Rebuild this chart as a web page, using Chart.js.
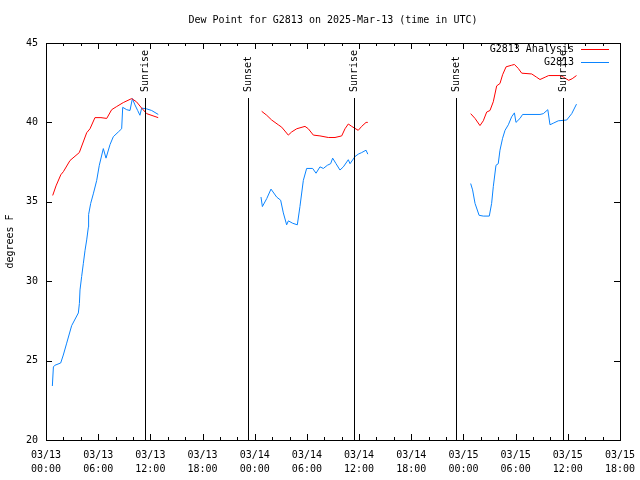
<!DOCTYPE html>
<html>
<head>
<meta charset="utf-8">
<script src="https://cdn.jsdelivr.net/npm/chart.js@4.4.0/dist/chart.umd.min.js"></script>
<style>
html, body { margin: 0; padding: 0; background: #fff; }
</style>
</head>
<body>
<canvas id="dewChart" width="640" height="480"></canvas>
<script>
// hours since 2025-03-13 00:00 UTC, null breaks the line between days
const analysisHours = [0.77, 1.15, 1.7, 2.0, 2.76, 3.83, 4.68, 5.06, 5.63, 6.32, 6.98, 7.55, 8.13, 8.89, 9.85, 10.4, 11.0, 11.58, 12.9,
    18,
    24.8, 25.38, 25.95, 26.71, 27.1, 27.86, 28.25, 28.83, 29.78, 30.16, 30.74, 31.5, 32.46, 33.23, 34.0, 34.38, 34.76, 35.15, 35.9, 36.3, 36.8, 37.0,
    42,
    48.83, 49.33, 49.9, 50.28, 50.67, 51.05, 51.43, 51.82, 52.2, 52.5, 52.9, 53.54, 53.86, 54.3, 54.7, 55.85, 56.4, 56.8, 57.4, 57.8, 59.15, 59.5, 60.1, 60.5, 61.0];
const analysisDew = [35.4, 36.0, 36.7, 36.9, 37.6, 38.1, 39.35, 39.6, 40.3, 40.3, 40.25, 40.8, 41.0, 41.25, 41.5, 41.3, 40.9, 40.55, 40.3,
    null,
    40.7, 40.45, 40.15, 39.85, 39.7, 39.2, 39.4, 39.6, 39.75, 39.6, 39.2, 39.15, 39.05, 39.05, 39.15, 39.6, 39.9, 39.75, 39.5, 39.75, 40.0, 40.0,
    null,
    40.55, 40.25, 39.8, 40.1, 40.65, 40.75, 41.3, 42.3, 42.45, 43.0, 43.5, 43.6, 43.65, 43.4, 43.1, 43.05, 42.85, 42.7, 42.85, 42.95, 42.95, 42.85, 42.65, 42.75, 42.95];

const stationHours = [0.73, 0.85, 1.0, 1.69, 1.99, 2.38, 2.95, 3.72, 3.84, 3.91, 4.1, 4.29, 4.49, 4.68, 4.87, 4.9, 5.14, 5.44, 5.83, 6.13, 6.59, 6.9, 7.36, 7.74, 8.32, 8.7, 8.82, 9.28, 9.66, 9.93, 10.23, 10.54, 10.8, 11.0, 11.58, 12.15, 12.91,
    18,
    24.72, 24.88, 25.38, 25.87, 26.52, 26.98, 27.29, 27.67, 27.87, 28.36, 28.9, 29.2, 29.59, 29.97, 30.66, 31.05, 31.5, 31.89, 32.35, 32.73, 32.96, 33.35, 33.8, 34.19, 34.76, 34.96, 35.53, 35.9, 36.3, 36.8, 37.0,
    42,
    48.83, 49.05, 49.33, 49.8, 50.28, 50.97, 51.24, 51.43, 51.74, 52.0, 52.2, 52.5, 52.78, 53.16, 53.54, 53.86, 54.04, 54.5, 54.8, 55.65, 56.8, 57.18, 57.7, 57.95, 58.33, 58.9, 59.87, 60.45, 61.0];
const stationDew = [23.4, 24.6, 24.7, 24.85, 25.35, 26.1, 27.2, 28.0, 28.6, 29.45, 30.3, 31.1, 31.95, 32.6, 33.4, 34.2, 34.9, 35.5, 36.35, 37.3, 38.35, 37.75, 38.6, 39.1, 39.4, 39.6, 40.95, 40.8, 40.75, 41.5, 41.1, 40.75, 40.45, 40.9, 40.85, 40.75, 40.5,
    null,
    35.3, 34.7, 35.2, 35.8, 35.3, 35.1, 34.3, 33.55, 33.8, 33.65, 33.55, 34.7, 36.35, 37.1, 37.1, 36.8, 37.2, 37.1, 37.3, 37.4, 37.75, 37.4, 37.0, 37.2, 37.65, 37.4, 37.85, 38.0, 38.1, 38.25, 38.0,
    null,
    36.15, 35.75, 34.9, 34.15, 34.1, 34.1, 34.9, 35.95, 37.3, 37.4, 38.25, 39.0, 39.5, 39.85, 40.35, 40.6, 40.0, 40.25, 40.5, 40.5, 40.5, 40.55, 40.8, 39.85, 39.95, 40.1, 40.15, 40.55, 41.15];

const sunHours = [11.43, 23.17, 35.42, 47.2, 59.45];
const sunLabels = ['Sunrise', 'Sunset', 'Sunrise', 'Sunset', 'Sunrise'];

const xTickLabels = [
    ['03/13', '00:00'], ['03/13', '06:00'], ['03/13', '12:00'], ['03/13', '18:00'],
    ['03/14', '00:00'], ['03/14', '06:00'], ['03/14', '12:00'], ['03/14', '18:00'],
    ['03/15', '00:00'], ['03/15', '06:00'], ['03/15', '12:00'], ['03/15', '18:00']
];

const toPoints = (hrs, vals) => hrs.map((h, i) => ({ x: h, y: vals[i] }));

const monoFont = { family: 'DejaVu Sans Mono', size: 10, weight: 'normal' };
Chart.defaults.font.family = monoFont.family;
Chart.defaults.font.size = 10;
Chart.defaults.color = '#000';

// gnuplot look: frame, inward ticks, sunrise/sunset markers, legend
const gnuplotFrame = {
    id: 'gnuplotFrame',
    afterDatasetsDraw(chart) {
        const { ctx, chartArea: a, scales: { x, y } } = chart;
        const px = v => Math.round(v) + 0.5;
        ctx.save();
        ctx.strokeStyle = '#000';
        ctx.fillStyle = '#000';
        ctx.lineWidth = 1;
        ctx.font = '10px "DejaVu Sans Mono"';

        // sunrise / sunset lines
        const lineTop = a.bottom - 0.861 * (a.bottom - a.top);
        sunHours.forEach((h, i) => {
            const xp = px(x.getPixelForValue(h));
            ctx.beginPath();
            ctx.moveTo(xp, a.bottom);
            ctx.lineTo(xp, Math.round(lineTop));
            ctx.stroke();
            ctx.save();
            ctx.translate(xp, Math.round(lineTop) - 6);
            ctx.rotate(-Math.PI / 2);
            ctx.textAlign = 'left';
            ctx.textBaseline = 'middle';
            ctx.fillText(sunLabels[i], 0, 0);
            ctx.restore();
        });

        // frame
        ctx.strokeRect(px(a.left), px(a.top), Math.round(a.right - a.left), Math.round(a.bottom - a.top));

        // x ticks, major every 6 h, minor every 2 h, top and bottom
        ctx.beginPath();
        for (let h = x.min; h <= x.max; h += 2) {
            const xp = px(x.getPixelForValue(h));
            const len = h % 6 === 0 ? 6 : 3;
            ctx.moveTo(xp, a.bottom);
            ctx.lineTo(xp, a.bottom - len);
            ctx.moveTo(xp, a.top);
            ctx.lineTo(xp, a.top + len);
        }
        // y ticks every 5 degrees, left and right
        for (let v = y.min; v <= y.max; v += 5) {
            const yp = px(y.getPixelForValue(v));
            ctx.moveTo(a.left, yp);
            ctx.lineTo(a.left + 6, yp);
            ctx.moveTo(a.right, yp);
            ctx.lineTo(a.right - 6, yp);
        }
        ctx.stroke();

        // legend, top right inside plot
        chart.data.datasets.forEach((ds, i) => {
            const yp = a.top + 6 + i * 13;
            ctx.textAlign = 'right';
            ctx.textBaseline = 'middle';
            ctx.fillStyle = '#000';
            ctx.fillText(ds.label, a.right - 46, yp);
            ctx.strokeStyle = ds.borderColor;
            ctx.beginPath();
            ctx.moveTo(a.right - 39, px(yp));
            ctx.lineTo(a.right - 11, px(yp));
            ctx.stroke();
        });
        ctx.restore();
    }
};

new Chart(document.getElementById('dewChart'), {
    type: 'line',
    data: {
        datasets: [{
            label: 'G2813 Analysis',
            data: toPoints(analysisHours, analysisDew),
            borderColor: '#ff0000',
            borderWidth: 1,
            pointRadius: 0,
            tension: 0,
            spanGaps: false
        },
        {
            label: 'G2813',
            data: toPoints(stationHours, stationDew),
            borderColor: '#0a84ff',
            borderWidth: 1,
            pointRadius: 0,
            tension: 0,
            spanGaps: false
        }]
    },
    options: {
        responsive: false,
        animation: false,
        layout: { padding: { right: 20 } },
        plugins: {
            legend: { display: false },
            tooltip: { enabled: false },
            title: {
                display: true,
                text: 'Dew Point for G2813 on 2025-Mar-13 (time in UTC)',
                font: monoFont,
                color: '#000',
                fullSize: false,
                padding: { top: 14, bottom: 17 }
            }
        },
        scales: {
            x: {
                type: 'linear',
                min: 0,
                max: 66,
                grid: { display: false, drawTicks: false },
                border: { display: false },
                ticks: {
                    stepSize: 6,
                    autoSkip: false,
                    maxRotation: 0,
                    padding: 8,
                    font: { family: 'DejaVu Sans Mono', size: 10, lineHeight: 1.4 },
                    color: '#000',
                    callback: (v, i) => xTickLabels[i]
                },
                afterFit(scale) {
                    scale.height = 40;
                    scale.paddingLeft = 0;
                    scale.paddingRight = 0;
                }
            },
            y: {
                min: 20,
                max: 45,
                grid: { display: false, drawTicks: false },
                border: { display: false },
                ticks: { stepSize: 5, padding: 8, font: monoFont, color: '#000' },
                title: {
                    display: true,
                    text: 'degrees F',
                    font: monoFont,
                    color: '#000',
                    padding: { top: 4, bottom: 0 }
                },
                afterFit(scale) { scale.width = 46; }
            }
        }
    },
    plugins: [gnuplotFrame]
});
</script>
</body>
</html>
